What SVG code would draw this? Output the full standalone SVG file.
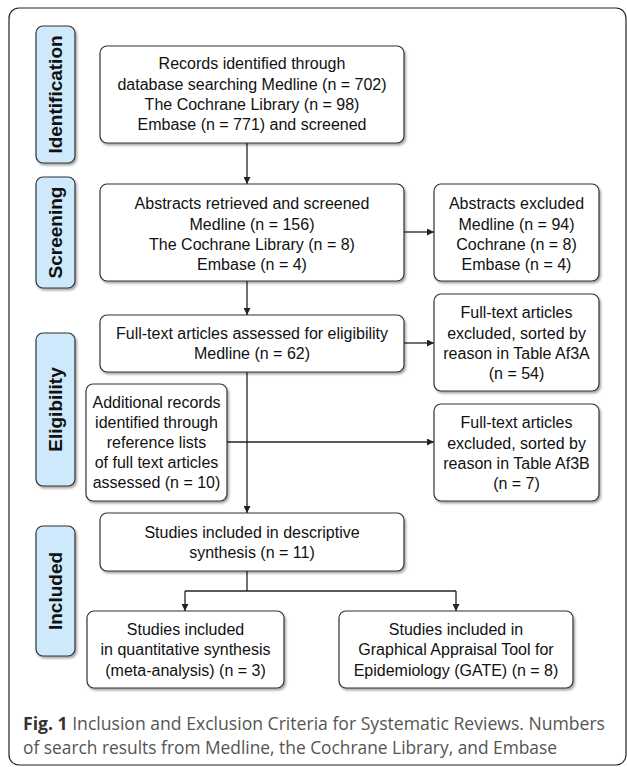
<svg xmlns="http://www.w3.org/2000/svg" width="627" height="767" viewBox="0 0 627 767">
<defs>
<marker id="ah" viewBox="0 0 10 10" refX="10" refY="5" markerWidth="7" markerHeight="7" markerUnits="userSpaceOnUse" orient="auto">
<path d="M0,0 L10,5 L0,10 Z" fill="#222"/>
</marker>
<filter id="sh" x="-10%" y="-10%" width="125%" height="130%">
<feDropShadow dx="1.5" dy="2" stdDeviation="1.2" flood-color="#000" flood-opacity="0.35"/>
</filter>
</defs>
<style>
.box{fill:#fff;stroke:#333;stroke-width:1.2;filter:url(#sh)}
.side{fill:#cde9fb;stroke:#333;stroke-width:1.2;filter:url(#sh)}
.t{font-family:"Liberation Sans",Arial,Helvetica,sans-serif;font-size:16px;fill:#111;text-anchor:middle}
.st{font-family:"Liberation Sans",Arial,Helvetica,sans-serif;font-size:19px;font-weight:bold;fill:#111;text-anchor:middle}
.ln{fill:none;stroke:#222;stroke-width:1.3}
.cap{font-family:"Open Sans","Noto Sans",sans-serif;font-size:18px;fill:#555}
</style>
<rect x="9" y="8" width="617" height="757" rx="10" fill="none" stroke="#222" stroke-width="1.2"/>

<g id="side-identification">
<rect class="side" x="36" y="26" width="39" height="137" rx="7"/>
<text class="st" transform="translate(62,94.5) rotate(-90)">Identification</text>
</g>
<g id="side-screening">
<rect class="side" x="36" y="177" width="39" height="111" rx="7"/>
<text class="st" transform="translate(62,232.5) rotate(-90)">Screening</text>
</g>
<g id="side-eligibility">
<rect class="side" x="36" y="333" width="39" height="153" rx="7"/>
<text class="st" transform="translate(62,409.5) rotate(-90)">Eligibility</text>
</g>
<g id="side-included">
<rect class="side" x="36" y="526" width="39" height="130" rx="7"/>
<text class="st" transform="translate(62,591) rotate(-90)">Included</text>
</g>

<g id="connectors">
<line class="ln" x1="247" y1="143" x2="247" y2="184" marker-end="url(#ah)"/>
<line class="ln" x1="247" y1="281" x2="247" y2="315" marker-end="url(#ah)"/>
<line class="ln" x1="247" y1="372" x2="247" y2="513" marker-end="url(#ah)"/>
<line class="ln" x1="404" y1="232" x2="434" y2="232" marker-end="url(#ah)"/>
<line class="ln" x1="404" y1="343" x2="434" y2="343" marker-end="url(#ah)"/>
<line class="ln" x1="227" y1="442" x2="434" y2="442" marker-end="url(#ah)"/>
<polyline class="ln" points="247,571 247,591"/>
<polyline class="ln" points="185,591 456,591"/>
<line class="ln" x1="185" y1="591" x2="185" y2="611" marker-end="url(#ah)"/>
<line class="ln" x1="456" y1="591" x2="456" y2="611" marker-end="url(#ah)"/>
</g>

<g id="records">
<rect class="box" x="100" y="46" width="304" height="97" rx="7"/>
<text class="t" x="252" y="69">Records identified through</text>
<text class="t" x="252" y="89.5">database searching Medline (n = 702)</text>
<text class="t" x="252" y="109.5">The Cochrane Library (n = 98)</text>
<text class="t" x="252" y="130">Embase (n = 771) and screened</text>
</g>
<g id="abstracts">
<rect class="box" x="100" y="184" width="304" height="97" rx="7"/>
<text class="t" x="252" y="209">Abstracts retrieved and screened</text>
<text class="t" x="252" y="229.5">Medline (n = 156)</text>
<text class="t" x="252" y="249.5">The Cochrane Library (n = 8)</text>
<text class="t" x="252" y="270">Embase (n = 4)</text>
</g>
<g id="abstracts-excluded">
<rect class="box" x="434" y="184" width="165" height="97" rx="7"/>
<text class="t" x="516.5" y="209">Abstracts excluded</text>
<text class="t" x="516.5" y="229.5">Medline (n = 94)</text>
<text class="t" x="516.5" y="249.5">Cochrane (n = 8)</text>
<text class="t" x="516.5" y="270">Embase (n = 4)</text>
</g>
<g id="fulltext">
<rect class="box" x="100" y="315" width="304" height="57" rx="7"/>
<text class="t" x="252" y="339">Full-text articles assessed for eligibility</text>
<text class="t" x="252" y="359">Medline (n = 62)</text>
</g>
<g id="excluded-a">
<rect class="box" x="434" y="294" width="165" height="97" rx="7"/>
<text class="t" x="516.5" y="318">Full-text articles</text>
<text class="t" x="516.5" y="338.5">excluded, sorted by</text>
<text class="t" x="516.5" y="358.5">reason in Table Af3A</text>
<text class="t" x="516.5" y="379">(n = 54)</text>
</g>
<g id="additional">
<rect class="box" x="86" y="384" width="141" height="117" rx="7"/>
<text class="t" x="156.5" y="408">Additional records</text>
<text class="t" x="156.5" y="428">identified through</text>
<text class="t" x="156.5" y="448">reference lists</text>
<text class="t" x="156.5" y="468">of full text articles</text>
<text class="t" x="156.5" y="488">assessed (n = 10)</text>
</g>
<g id="excluded-b">
<rect class="box" x="434" y="404" width="165" height="97" rx="7"/>
<text class="t" x="516.5" y="428">Full-text articles</text>
<text class="t" x="516.5" y="448.5">excluded, sorted by</text>
<text class="t" x="516.5" y="468.5">reason in Table Af3B</text>
<text class="t" x="516.5" y="489">(n = 7)</text>
</g>
<g id="descriptive">
<rect class="box" x="100" y="513" width="304" height="58" rx="7"/>
<text class="t" x="252" y="538">Studies included in descriptive</text>
<text class="t" x="252" y="558">synthesis (n = 11)</text>
</g>
<g id="quantitative">
<rect class="box" x="87" y="611" width="197" height="77" rx="7"/>
<text class="t" x="185.5" y="635">Studies included</text>
<text class="t" x="185.5" y="655">in quantitative synthesis</text>
<text class="t" x="185.5" y="675.5">(meta-analysis) (n = 3)</text>
</g>
<g id="gate">
<rect class="box" x="339" y="611" width="234" height="77" rx="7"/>
<text class="t" x="456" y="635">Studies included in</text>
<text class="t" x="456" y="655">Graphical Appraisal Tool for</text>
<text class="t" x="456" y="675.5">Epidemiology (GATE) (n = 8)</text>
</g>

<g id="caption">
<text class="cap" x="23" y="730" textLength="582" lengthAdjust="spacingAndGlyphs"><tspan font-weight="bold" fill="#333">Fig. 1</tspan> Inclusion and Exclusion Criteria for Systematic Reviews. Numbers</text>
<text class="cap" x="23" y="754" textLength="534" lengthAdjust="spacingAndGlyphs">of search results from Medline, the Cochrane Library, and Embase</text>
</g>
</svg>
